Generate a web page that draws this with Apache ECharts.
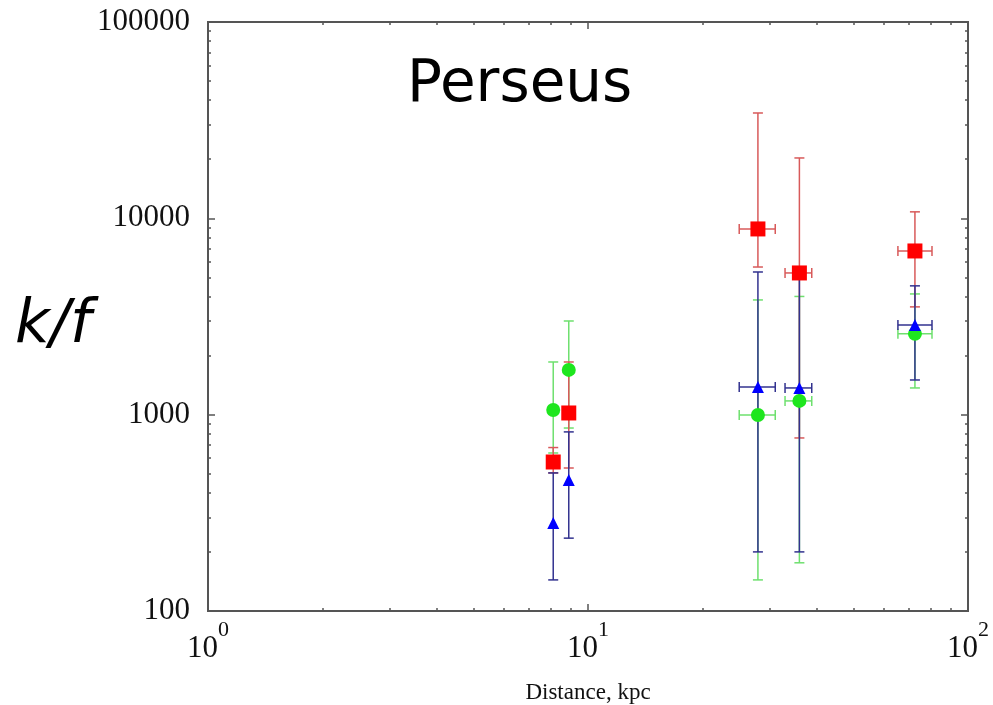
<!DOCTYPE html>
<html>
<head>
<meta charset="utf-8">
<script src="https://cdn.jsdelivr.net/npm/echarts@6/dist/echarts.min.js"></script>
<style>
  html, body { margin: 0; padding: 0; background: #fff; }
  #chart { width: 993px; height: 705px; }
</style>
</head>
<body>
<div id="chart"></div>
<script>
// distance (kpc) and its horizontal error range
var distance = [8.1, 8.9, 28, 36, 72.5];
var distLo = [null, null, 25, 33, 65.4];
var distHi = [null, null, 31.1, 38.8, 80.4];

// k/f, red squares
var redVal = [574, 1020, 8830, 5270, 6820];
var redLo = [505, 535, 5650, 761, 3540];
var redHi = [680, 1855, 34400, 20300, 10790];

// k/f, blue triangles
var blueVal = [281, 465, 1385, 1368, 2860];
var blueLo = [144, 235, 200, 200, 1502];
var blueHi = [505, 817, 5330, 5270, 4530];

// k/f, green circles
var greenVal = [1057, 1690, 996, 1175, 2580];
var greenLo = [638, 855, 144, 176, 1368];
var greenHi = [1855, 3000, 3840, 4000, 4120];

var xMajor = [1, 10, 100];
var xMinor = [2, 3, 4, 5, 6, 7, 8, 9, 20, 30, 40, 50, 60, 70, 80, 90];
var yMajor = [100, 1000, 10000, 100000];
var yMinor = [200, 300, 400, 500, 600, 700, 800, 900,
              2000, 3000, 4000, 5000, 6000, 7000, 8000, 9000,
              20000, 30000, 40000, 50000, 60000, 70000, 80000, 90000];

var chart = echarts.init(document.getElementById('chart'));

var axisColor = '#555';

function errData(val, lo, hi) {
    return distance.map(function (d, i) {
        var xl = distLo[i] == null ? d : distLo[i];
        var xh = distHi[i] == null ? d : distHi[i];
        return [d, val[i], lo[i], hi[i], xl, xh];
    });
}

function errSeries(val, lo, hi, color) {
    return {
        type: 'custom',
        xAxisIndex: 0,
        yAxisIndex: 0,
        silent: true,
        encode: {x: 0, y: 1},
        data: errData(val, lo, hi),
        renderItem: function (params, api) {
            var c = api.coord([api.value(0), api.value(1)]);
            var pl = api.coord([api.value(0), api.value(2)]);
            var ph = api.coord([api.value(0), api.value(3)]);
            var xl = api.coord([api.value(4), api.value(1)]);
            var xh = api.coord([api.value(5), api.value(1)]);
            var st = {stroke: color, lineWidth: 1.5};
            var cap = 5;
            var kids = [
                {type: 'line', shape: {x1: c[0], y1: pl[1], x2: c[0], y2: ph[1]}, style: st},
                {type: 'line', shape: {x1: c[0] - cap, y1: pl[1], x2: c[0] + cap, y2: pl[1]}, style: st},
                {type: 'line', shape: {x1: c[0] - cap, y1: ph[1], x2: c[0] + cap, y2: ph[1]}, style: st}
            ];
            if (xh[0] - xl[0] > 1) {
                kids.push(
                    {type: 'line', shape: {x1: xl[0], y1: c[1], x2: xh[0], y2: c[1]}, style: st},
                    {type: 'line', shape: {x1: xl[0], y1: c[1] - cap, x2: xl[0], y2: c[1] + cap}, style: st},
                    {type: 'line', shape: {x1: xh[0], y1: c[1] - cap, x2: xh[0], y2: c[1] + cap}, style: st}
                );
            }
            return {type: 'group', children: kids};
        }
    };
}

function pts(val) {
    return distance.map(function (d, i) { return [d, val[i]]; });
}

function xAx(pos, ticks, len, labels) {
    return {
        type: 'log', logBase: 10, min: 1, max: 100, position: pos,
        axisLine: {show: true, onZero: false, lineStyle: {color: axisColor, width: 2}},
        axisTick: {show: true, inside: true, length: len, customValues: ticks,
            lineStyle: {color: axisColor, width: 1.5}},
        axisLabel: labels ? {
            show: true, customValues: xMajor, margin: 8,
            formatter: function (v) {
                return '{b|10}{s|' + Math.round(Math.log10(v)) + '}';
            },
            rich: {
                b: {fontFamily: 'Liberation Serif', fontSize: 31, color: '#111', lineHeight: 45,
                    verticalAlign: 'bottom'},
                s: {fontFamily: 'Liberation Serif', fontSize: 22, color: '#111', lineHeight: 16,
                    verticalAlign: 'top'}
            }
        } : {show: false},
        splitLine: {show: false}
    };
}

function yAx(pos, ticks, len, labels) {
    return {
        type: 'log', logBase: 10, min: 100, max: 100000, position: pos,
        axisLine: {show: true, onZero: false, lineStyle: {color: axisColor, width: 2}},
        axisTick: {show: true, inside: true, length: len, customValues: ticks,
            lineStyle: {color: axisColor, width: 1.5}},
        axisLabel: labels ? {
            show: true, customValues: yMajor, margin: 18,
            fontFamily: 'Liberation Serif', fontSize: 31, color: '#111',
            formatter: function (v) { return String(Math.round(v)); }
        } : {show: false},
        splitLine: {show: false}
    };
}

var xBottom = xAx('bottom', xMajor, 7, true);
xBottom.name = 'Distance, kpc';
xBottom.nameLocation = 'middle';
xBottom.nameGap = 70;
xBottom.nameTextStyle = {fontFamily: 'Liberation Serif', fontSize: 23, color: '#111'};

var option = {
    backgroundColor: '#fff',
    animation: false,
    grid: {left: 208, top: 22, right: 25, bottom: 94, outerBoundsMode: 'none', containLabel: false},
    xAxis: [
        xBottom,
        xAx('bottom', xMinor, 3, false),
        xAx('top', xMajor, 7, false),
        xAx('top', xMinor, 3, false)
    ],
    yAxis: [
        yAx('left', yMajor, 7, true),
        yAx('left', yMinor, 3, false),
        yAx('right', yMajor, 7, false),
        yAx('right', yMinor, 3, false)
    ],
    graphic: [
        {type: 'text', left: 407, top: 57,
            style: {text: 'Perseus', fontFamily: 'DejaVu Sans', fontSize: 58, fill: '#000'}},
        {type: 'text', left: 15, top: 296,
            style: {text: 'k/f', fontFamily: 'DejaVu Sans', fontStyle: 'italic', fontSize: 60, fill: '#000'}}
    ],
    series: [
        errSeries(greenVal, greenLo, greenHi, '#6ee06e'),
        errSeries(redVal, redLo, redHi, '#d85a5a'),
        errSeries(blueVal, blueLo, blueHi, '#32328f'),
        {type: 'scatter', symbol: 'circle', symbolSize: 14, data: pts(greenVal),
            itemStyle: {color: '#1ee61e', opacity: 1}},
        {type: 'scatter', symbol: 'triangle', symbolSize: 12, data: pts(blueVal),
            itemStyle: {color: '#0000ff', opacity: 1}},
        {type: 'scatter', symbol: 'rect', symbolSize: 15, data: pts(redVal),
            itemStyle: {color: '#ff0000', opacity: 1}}
    ]
};

chart.setOption(option);
</script>
</body>
</html>
